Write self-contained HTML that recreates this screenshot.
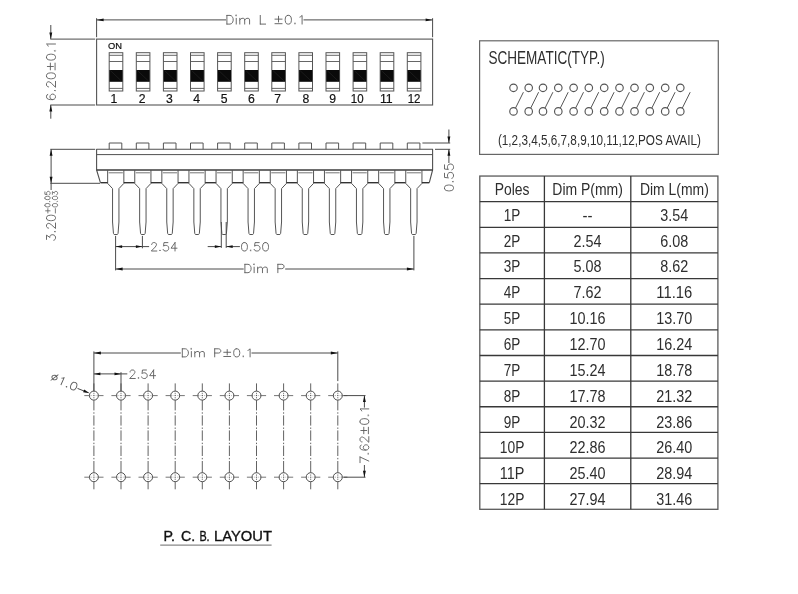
<!DOCTYPE html>
<html><head><meta charset="utf-8"><title>DIP switch drawing</title>
<style>
html,body{margin:0;padding:0;background:#fff;}
body{width:798px;height:594px;overflow:hidden;}
svg{display:block;font-family:"Liberation Sans",sans-serif;filter:grayscale(1);}
</style></head><body>
<svg width="798" height="594" viewBox="0 0 798 594">
<rect x="0" y="0" width="798" height="594" fill="#ffffff"/>
<g opacity="0.999">
<rect x="96.60" y="39.10" width="336.00" height="65.90" fill="none" stroke="#555" stroke-width="1.1"/>
<rect x="109.20" y="52.7" width="13.60" height="38.3" fill="#fff" stroke="#555" stroke-width="1"/>
<line x1="109.20" y1="55.30" x2="122.80" y2="55.30" stroke="#555" stroke-width="0.9"/>
<line x1="109.20" y1="61.50" x2="122.80" y2="61.50" stroke="#555" stroke-width="0.9"/>
<line x1="109.20" y1="88.40" x2="122.80" y2="88.40" stroke="#555" stroke-width="0.9"/>
<rect x="109.40" y="70" width="13.20" height="11.8" fill="#0a0a0a"/>
<line x1="110.40" y1="70.60" x2="121.60" y2="81.20" stroke="#2c2c2c" stroke-width="0.5"/>
<rect x="136.30" y="52.7" width="13.60" height="38.3" fill="#fff" stroke="#555" stroke-width="1"/>
<line x1="136.30" y1="55.30" x2="149.90" y2="55.30" stroke="#555" stroke-width="0.9"/>
<line x1="136.30" y1="61.50" x2="149.90" y2="61.50" stroke="#555" stroke-width="0.9"/>
<line x1="136.30" y1="88.40" x2="149.90" y2="88.40" stroke="#555" stroke-width="0.9"/>
<rect x="136.50" y="70" width="13.20" height="11.8" fill="#0a0a0a"/>
<line x1="137.50" y1="70.60" x2="148.70" y2="81.20" stroke="#2c2c2c" stroke-width="0.5"/>
<rect x="163.40" y="52.7" width="13.60" height="38.3" fill="#fff" stroke="#555" stroke-width="1"/>
<line x1="163.40" y1="55.30" x2="177.00" y2="55.30" stroke="#555" stroke-width="0.9"/>
<line x1="163.40" y1="61.50" x2="177.00" y2="61.50" stroke="#555" stroke-width="0.9"/>
<line x1="163.40" y1="88.40" x2="177.00" y2="88.40" stroke="#555" stroke-width="0.9"/>
<rect x="163.60" y="70" width="13.20" height="11.8" fill="#0a0a0a"/>
<line x1="164.60" y1="70.60" x2="175.80" y2="81.20" stroke="#2c2c2c" stroke-width="0.5"/>
<rect x="190.50" y="52.7" width="13.60" height="38.3" fill="#fff" stroke="#555" stroke-width="1"/>
<line x1="190.50" y1="55.30" x2="204.10" y2="55.30" stroke="#555" stroke-width="0.9"/>
<line x1="190.50" y1="61.50" x2="204.10" y2="61.50" stroke="#555" stroke-width="0.9"/>
<line x1="190.50" y1="88.40" x2="204.10" y2="88.40" stroke="#555" stroke-width="0.9"/>
<rect x="190.70" y="70" width="13.20" height="11.8" fill="#0a0a0a"/>
<line x1="191.70" y1="70.60" x2="202.90" y2="81.20" stroke="#2c2c2c" stroke-width="0.5"/>
<rect x="217.60" y="52.7" width="13.60" height="38.3" fill="#fff" stroke="#555" stroke-width="1"/>
<line x1="217.60" y1="55.30" x2="231.20" y2="55.30" stroke="#555" stroke-width="0.9"/>
<line x1="217.60" y1="61.50" x2="231.20" y2="61.50" stroke="#555" stroke-width="0.9"/>
<line x1="217.60" y1="88.40" x2="231.20" y2="88.40" stroke="#555" stroke-width="0.9"/>
<rect x="217.80" y="70" width="13.20" height="11.8" fill="#0a0a0a"/>
<line x1="218.80" y1="70.60" x2="230.00" y2="81.20" stroke="#2c2c2c" stroke-width="0.5"/>
<rect x="244.70" y="52.7" width="13.60" height="38.3" fill="#fff" stroke="#555" stroke-width="1"/>
<line x1="244.70" y1="55.30" x2="258.30" y2="55.30" stroke="#555" stroke-width="0.9"/>
<line x1="244.70" y1="61.50" x2="258.30" y2="61.50" stroke="#555" stroke-width="0.9"/>
<line x1="244.70" y1="88.40" x2="258.30" y2="88.40" stroke="#555" stroke-width="0.9"/>
<rect x="244.90" y="70" width="13.20" height="11.8" fill="#0a0a0a"/>
<line x1="245.90" y1="70.60" x2="257.10" y2="81.20" stroke="#2c2c2c" stroke-width="0.5"/>
<rect x="271.80" y="52.7" width="13.60" height="38.3" fill="#fff" stroke="#555" stroke-width="1"/>
<line x1="271.80" y1="55.30" x2="285.40" y2="55.30" stroke="#555" stroke-width="0.9"/>
<line x1="271.80" y1="61.50" x2="285.40" y2="61.50" stroke="#555" stroke-width="0.9"/>
<line x1="271.80" y1="88.40" x2="285.40" y2="88.40" stroke="#555" stroke-width="0.9"/>
<rect x="272.00" y="70" width="13.20" height="11.8" fill="#0a0a0a"/>
<line x1="273.00" y1="70.60" x2="284.20" y2="81.20" stroke="#2c2c2c" stroke-width="0.5"/>
<rect x="298.90" y="52.7" width="13.60" height="38.3" fill="#fff" stroke="#555" stroke-width="1"/>
<line x1="298.90" y1="55.30" x2="312.50" y2="55.30" stroke="#555" stroke-width="0.9"/>
<line x1="298.90" y1="61.50" x2="312.50" y2="61.50" stroke="#555" stroke-width="0.9"/>
<line x1="298.90" y1="88.40" x2="312.50" y2="88.40" stroke="#555" stroke-width="0.9"/>
<rect x="299.10" y="70" width="13.20" height="11.8" fill="#0a0a0a"/>
<line x1="300.10" y1="70.60" x2="311.30" y2="81.20" stroke="#2c2c2c" stroke-width="0.5"/>
<rect x="326.00" y="52.7" width="13.60" height="38.3" fill="#fff" stroke="#555" stroke-width="1"/>
<line x1="326.00" y1="55.30" x2="339.60" y2="55.30" stroke="#555" stroke-width="0.9"/>
<line x1="326.00" y1="61.50" x2="339.60" y2="61.50" stroke="#555" stroke-width="0.9"/>
<line x1="326.00" y1="88.40" x2="339.60" y2="88.40" stroke="#555" stroke-width="0.9"/>
<rect x="326.20" y="70" width="13.20" height="11.8" fill="#0a0a0a"/>
<line x1="327.20" y1="70.60" x2="338.40" y2="81.20" stroke="#2c2c2c" stroke-width="0.5"/>
<rect x="353.10" y="52.7" width="13.60" height="38.3" fill="#fff" stroke="#555" stroke-width="1"/>
<line x1="353.10" y1="55.30" x2="366.70" y2="55.30" stroke="#555" stroke-width="0.9"/>
<line x1="353.10" y1="61.50" x2="366.70" y2="61.50" stroke="#555" stroke-width="0.9"/>
<line x1="353.10" y1="88.40" x2="366.70" y2="88.40" stroke="#555" stroke-width="0.9"/>
<rect x="353.30" y="70" width="13.20" height="11.8" fill="#0a0a0a"/>
<line x1="354.30" y1="70.60" x2="365.50" y2="81.20" stroke="#2c2c2c" stroke-width="0.5"/>
<rect x="380.20" y="52.7" width="13.60" height="38.3" fill="#fff" stroke="#555" stroke-width="1"/>
<line x1="380.20" y1="55.30" x2="393.80" y2="55.30" stroke="#555" stroke-width="0.9"/>
<line x1="380.20" y1="61.50" x2="393.80" y2="61.50" stroke="#555" stroke-width="0.9"/>
<line x1="380.20" y1="88.40" x2="393.80" y2="88.40" stroke="#555" stroke-width="0.9"/>
<rect x="380.40" y="70" width="13.20" height="11.8" fill="#0a0a0a"/>
<line x1="381.40" y1="70.60" x2="392.60" y2="81.20" stroke="#2c2c2c" stroke-width="0.5"/>
<rect x="407.30" y="52.7" width="13.60" height="38.3" fill="#fff" stroke="#555" stroke-width="1"/>
<line x1="407.30" y1="55.30" x2="420.90" y2="55.30" stroke="#555" stroke-width="0.9"/>
<line x1="407.30" y1="61.50" x2="420.90" y2="61.50" stroke="#555" stroke-width="0.9"/>
<line x1="407.30" y1="88.40" x2="420.90" y2="88.40" stroke="#555" stroke-width="0.9"/>
<rect x="407.50" y="70" width="13.20" height="11.8" fill="#0a0a0a"/>
<line x1="408.50" y1="70.60" x2="419.70" y2="81.20" stroke="#2c2c2c" stroke-width="0.5"/>
<line x1="96.60" y1="18.20" x2="96.60" y2="37.20" stroke="#4a4a4a" stroke-width="1"/>
<line x1="432.60" y1="18.20" x2="432.60" y2="37.20" stroke="#4a4a4a" stroke-width="1"/>
<line x1="96.60" y1="19.90" x2="226.00" y2="19.90" stroke="#4a4a4a" stroke-width="1"/>
<line x1="303.50" y1="19.90" x2="432.60" y2="19.90" stroke="#4a4a4a" stroke-width="1"/>
<path d="M96.60 19.90 L103.60 18.45 L103.60 21.35 Z" fill="#111" stroke="none"/>
<path d="M432.60 19.90 L425.60 21.35 L425.60 18.45 Z" fill="#111" stroke="none"/>
<path d="M226.90 15.40 L226.90 24.10 M226.90 15.40 L230.01 15.40 L231.35 15.81 L232.24 16.64 L232.68 17.47 L233.13 18.71 L233.13 20.79 L232.68 22.03 L232.24 22.86 L231.35 23.69 L230.01 24.10 L226.90 24.10 M235.80 15.40 L236.24 15.81 L236.69 15.40 L236.24 14.99 L235.80 15.40 M236.24 18.30 L236.24 24.10 M239.80 18.30 L239.80 24.10 M239.80 19.96 L241.14 18.71 L242.03 18.30 L243.36 18.30 L244.25 18.71 L244.70 19.96 L244.70 24.10 M244.70 19.96 L246.03 18.71 L246.92 18.30 L248.26 18.30 L249.15 18.71 L249.59 19.96 L249.59 24.10 M260.27 15.40 L260.27 24.10 M260.27 24.10 L265.61 24.10 M278.52 16.23 L278.52 22.03 M274.96 19.13 L282.08 19.13 M274.96 23.69 L282.08 23.69 M287.86 15.40 L286.53 15.81 L285.64 17.06 L285.19 19.13 L285.19 20.37 L285.64 22.44 L286.53 23.69 L287.86 24.10 L288.75 24.10 L290.09 23.69 L290.98 22.44 L291.42 20.37 L291.42 19.13 L290.98 17.06 L290.09 15.81 L288.75 15.40 L287.86 15.40 M294.98 23.27 L294.54 23.69 L294.98 24.10 L295.43 23.69 L294.98 23.27 M299.88 17.06 L300.77 16.64 L302.10 15.40 L302.10 24.10" fill="none" stroke="#5a5a5a" stroke-width="0.9" stroke-linecap="round" stroke-linejoin="round"/>
<line x1="50.30" y1="39.10" x2="95.20" y2="39.10" stroke="#4a4a4a" stroke-width="1"/>
<line x1="50.30" y1="105.00" x2="95.20" y2="105.00" stroke="#4a4a4a" stroke-width="1"/>
<line x1="50.80" y1="25.00" x2="50.80" y2="39.10" stroke="#4a4a4a" stroke-width="1"/>
<line x1="50.80" y1="105.00" x2="50.80" y2="118.70" stroke="#4a4a4a" stroke-width="1"/>
<path d="M50.80 39.10 L49.35 32.60 L52.25 32.60 Z" fill="#111" stroke="none"/>
<path d="M50.80 105.00 L52.25 111.50 L49.35 111.50 Z" fill="#111" stroke="none"/>
<path d="M47.79 94.51 L46.93 94.93 L46.50 96.20 L46.50 97.05 L46.93 98.33 L48.21 99.18 L50.36 99.60 L52.50 99.60 L54.21 99.18 L55.07 98.33 L55.50 97.05 L55.50 96.63 L55.07 95.36 L54.21 94.51 L52.93 94.08 L52.50 94.08 L51.21 94.51 L50.36 95.36 L49.93 96.63 L49.93 97.05 L50.36 98.33 L51.21 99.18 L52.50 99.60 M54.64 90.69 L55.07 91.11 L55.50 90.69 L55.07 90.26 L54.64 90.69 M48.64 86.87 L48.21 86.87 L47.36 86.44 L46.93 86.02 L46.50 85.17 L46.50 83.47 L46.93 82.62 L47.36 82.20 L48.21 81.77 L49.07 81.77 L49.93 82.20 L51.21 83.05 L55.50 87.29 L55.50 81.35 M46.50 76.26 L46.93 77.53 L48.21 78.38 L50.36 78.80 L51.64 78.80 L53.79 78.38 L55.07 77.53 L55.50 76.26 L55.50 75.41 L55.07 74.13 L53.79 73.29 L51.64 72.86 L50.36 72.86 L48.21 73.29 L46.93 74.13 L46.50 75.41 L46.50 76.26 M47.36 66.49 L53.36 66.49 M50.36 69.89 L50.36 63.10 M55.07 69.89 L55.07 63.10 M46.50 57.58 L46.93 58.85 L48.21 59.70 L50.36 60.13 L51.64 60.13 L53.79 59.70 L55.07 58.85 L55.50 57.58 L55.50 56.73 L55.07 55.46 L53.79 54.61 L51.64 54.19 L50.36 54.19 L48.21 54.61 L46.93 55.46 L46.50 56.73 L46.50 57.58 M54.64 50.79 L55.07 51.22 L55.50 50.79 L55.07 50.37 L54.64 50.79 M48.21 46.12 L47.79 45.27 L46.50 44.00 L55.50 44.00" fill="none" stroke="#5a5a5a" stroke-width="0.9" stroke-linecap="round" stroke-linejoin="round"/>
<path d="M100.40 182.70 L96.60 170.00 L96.60 149.30 L432.60 149.30 L432.60 170.00 L429.30 182.70" fill="none" stroke="#505050" stroke-width="1.1" stroke-linejoin="round"/>
<line x1="96.60" y1="154.60" x2="432.60" y2="154.60" stroke="#505050" stroke-width="1"/>
<line x1="96.60" y1="170.00" x2="432.60" y2="170.00" stroke="#3c3c3c" stroke-width="1.3"/>
<path d="M109.20 149.30 L109.20 143.00 L121.80 143.00 L121.80 149.30" fill="none" stroke="#555" stroke-width="1" stroke-linejoin="round"/>
<path d="M107.65 170.00 L107.65 183.40 L112.55 188.60 L112.55 222.00 L113.45 233.40 L114.15 234.50 L117.35 234.50 L118.05 233.40 L118.95 222.00 L118.95 188.60 L123.85 183.40 L123.85 170.00" fill="none" stroke="#555" stroke-width="1" stroke-linejoin="round"/>
<line x1="108.65" y1="172.80" x2="122.85" y2="172.80" stroke="#777" stroke-width="1"/>
<line x1="123.85" y1="182.70" x2="134.75" y2="182.70" stroke="#333" stroke-width="1.4"/>
<path d="M136.30 149.30 L136.30 143.00 L148.90 143.00 L148.90 149.30" fill="none" stroke="#555" stroke-width="1" stroke-linejoin="round"/>
<path d="M134.75 170.00 L134.75 183.40 L139.65 188.60 L139.65 222.00 L140.55 233.40 L141.25 234.50 L144.45 234.50 L145.15 233.40 L146.05 222.00 L146.05 188.60 L150.95 183.40 L150.95 170.00" fill="none" stroke="#555" stroke-width="1" stroke-linejoin="round"/>
<line x1="135.75" y1="172.80" x2="149.95" y2="172.80" stroke="#777" stroke-width="1"/>
<line x1="150.95" y1="182.70" x2="161.85" y2="182.70" stroke="#333" stroke-width="1.4"/>
<path d="M163.40 149.30 L163.40 143.00 L176.00 143.00 L176.00 149.30" fill="none" stroke="#555" stroke-width="1" stroke-linejoin="round"/>
<path d="M161.85 170.00 L161.85 183.40 L166.75 188.60 L166.75 222.00 L167.65 233.40 L168.35 234.50 L171.55 234.50 L172.25 233.40 L173.15 222.00 L173.15 188.60 L178.05 183.40 L178.05 170.00" fill="none" stroke="#555" stroke-width="1" stroke-linejoin="round"/>
<line x1="162.85" y1="172.80" x2="177.05" y2="172.80" stroke="#777" stroke-width="1"/>
<line x1="178.05" y1="182.70" x2="188.95" y2="182.70" stroke="#333" stroke-width="1.4"/>
<path d="M190.50 149.30 L190.50 143.00 L203.10 143.00 L203.10 149.30" fill="none" stroke="#555" stroke-width="1" stroke-linejoin="round"/>
<path d="M188.95 170.00 L188.95 183.40 L193.85 188.60 L193.85 222.00 L194.75 233.40 L195.45 234.50 L198.65 234.50 L199.35 233.40 L200.25 222.00 L200.25 188.60 L205.15 183.40 L205.15 170.00" fill="none" stroke="#555" stroke-width="1" stroke-linejoin="round"/>
<line x1="189.95" y1="172.80" x2="204.15" y2="172.80" stroke="#777" stroke-width="1"/>
<line x1="205.15" y1="182.70" x2="216.05" y2="182.70" stroke="#333" stroke-width="1.4"/>
<path d="M217.60 149.30 L217.60 143.00 L230.20 143.00 L230.20 149.30" fill="none" stroke="#555" stroke-width="1" stroke-linejoin="round"/>
<path d="M216.05 170.00 L216.05 183.40 L220.95 188.60 L220.95 222.00 L221.85 233.40 L222.55 234.50 L225.75 234.50 L226.45 233.40 L227.35 222.00 L227.35 188.60 L232.25 183.40 L232.25 170.00" fill="none" stroke="#555" stroke-width="1" stroke-linejoin="round"/>
<line x1="217.05" y1="172.80" x2="231.25" y2="172.80" stroke="#777" stroke-width="1"/>
<line x1="232.25" y1="182.70" x2="243.15" y2="182.70" stroke="#333" stroke-width="1.4"/>
<path d="M244.70 149.30 L244.70 143.00 L257.30 143.00 L257.30 149.30" fill="none" stroke="#555" stroke-width="1" stroke-linejoin="round"/>
<path d="M243.15 170.00 L243.15 183.40 L248.05 188.60 L248.05 222.00 L248.95 233.40 L249.65 234.50 L252.85 234.50 L253.55 233.40 L254.45 222.00 L254.45 188.60 L259.35 183.40 L259.35 170.00" fill="none" stroke="#555" stroke-width="1" stroke-linejoin="round"/>
<line x1="244.15" y1="172.80" x2="258.35" y2="172.80" stroke="#777" stroke-width="1"/>
<line x1="259.35" y1="182.70" x2="270.25" y2="182.70" stroke="#333" stroke-width="1.4"/>
<path d="M271.80 149.30 L271.80 143.00 L284.40 143.00 L284.40 149.30" fill="none" stroke="#555" stroke-width="1" stroke-linejoin="round"/>
<path d="M270.25 170.00 L270.25 183.40 L275.15 188.60 L275.15 222.00 L276.05 233.40 L276.75 234.50 L279.95 234.50 L280.65 233.40 L281.55 222.00 L281.55 188.60 L286.45 183.40 L286.45 170.00" fill="none" stroke="#555" stroke-width="1" stroke-linejoin="round"/>
<line x1="271.25" y1="172.80" x2="285.45" y2="172.80" stroke="#777" stroke-width="1"/>
<line x1="286.45" y1="182.70" x2="297.35" y2="182.70" stroke="#333" stroke-width="1.4"/>
<path d="M298.90 149.30 L298.90 143.00 L311.50 143.00 L311.50 149.30" fill="none" stroke="#555" stroke-width="1" stroke-linejoin="round"/>
<path d="M297.35 170.00 L297.35 183.40 L302.25 188.60 L302.25 222.00 L303.15 233.40 L303.85 234.50 L307.05 234.50 L307.75 233.40 L308.65 222.00 L308.65 188.60 L313.55 183.40 L313.55 170.00" fill="none" stroke="#555" stroke-width="1" stroke-linejoin="round"/>
<line x1="298.35" y1="172.80" x2="312.55" y2="172.80" stroke="#777" stroke-width="1"/>
<line x1="313.55" y1="182.70" x2="324.45" y2="182.70" stroke="#333" stroke-width="1.4"/>
<path d="M326.00 149.30 L326.00 143.00 L338.60 143.00 L338.60 149.30" fill="none" stroke="#555" stroke-width="1" stroke-linejoin="round"/>
<path d="M324.45 170.00 L324.45 183.40 L329.35 188.60 L329.35 222.00 L330.25 233.40 L330.95 234.50 L334.15 234.50 L334.85 233.40 L335.75 222.00 L335.75 188.60 L340.65 183.40 L340.65 170.00" fill="none" stroke="#555" stroke-width="1" stroke-linejoin="round"/>
<line x1="325.45" y1="172.80" x2="339.65" y2="172.80" stroke="#777" stroke-width="1"/>
<line x1="340.65" y1="182.70" x2="351.55" y2="182.70" stroke="#333" stroke-width="1.4"/>
<path d="M353.10 149.30 L353.10 143.00 L365.70 143.00 L365.70 149.30" fill="none" stroke="#555" stroke-width="1" stroke-linejoin="round"/>
<path d="M351.55 170.00 L351.55 183.40 L356.45 188.60 L356.45 222.00 L357.35 233.40 L358.05 234.50 L361.25 234.50 L361.95 233.40 L362.85 222.00 L362.85 188.60 L367.75 183.40 L367.75 170.00" fill="none" stroke="#555" stroke-width="1" stroke-linejoin="round"/>
<line x1="352.55" y1="172.80" x2="366.75" y2="172.80" stroke="#777" stroke-width="1"/>
<line x1="367.75" y1="182.70" x2="378.65" y2="182.70" stroke="#333" stroke-width="1.4"/>
<path d="M380.20 149.30 L380.20 143.00 L392.80 143.00 L392.80 149.30" fill="none" stroke="#555" stroke-width="1" stroke-linejoin="round"/>
<path d="M378.65 170.00 L378.65 183.40 L383.55 188.60 L383.55 222.00 L384.45 233.40 L385.15 234.50 L388.35 234.50 L389.05 233.40 L389.95 222.00 L389.95 188.60 L394.85 183.40 L394.85 170.00" fill="none" stroke="#555" stroke-width="1" stroke-linejoin="round"/>
<line x1="379.65" y1="172.80" x2="393.85" y2="172.80" stroke="#777" stroke-width="1"/>
<line x1="394.85" y1="182.70" x2="405.75" y2="182.70" stroke="#333" stroke-width="1.4"/>
<path d="M407.30 149.30 L407.30 143.00 L419.90 143.00 L419.90 149.30" fill="none" stroke="#555" stroke-width="1" stroke-linejoin="round"/>
<path d="M405.75 170.00 L405.75 183.40 L410.65 188.60 L410.65 222.00 L411.55 233.40 L412.25 234.50 L415.45 234.50 L416.15 233.40 L417.05 222.00 L417.05 188.60 L421.95 183.40 L421.95 170.00" fill="none" stroke="#555" stroke-width="1" stroke-linejoin="round"/>
<line x1="406.75" y1="172.80" x2="420.95" y2="172.80" stroke="#777" stroke-width="1"/>
<line x1="100.40" y1="182.70" x2="107.65" y2="182.70" stroke="#333" stroke-width="1.4"/>
<line x1="421.95" y1="182.70" x2="429.30" y2="182.70" stroke="#333" stroke-width="1.4"/>
<line x1="50.30" y1="149.30" x2="95.20" y2="149.30" stroke="#4a4a4a" stroke-width="1"/>
<line x1="50.30" y1="183.30" x2="100.00" y2="183.30" stroke="#4a4a4a" stroke-width="1"/>
<line x1="51.10" y1="149.30" x2="51.10" y2="190.00" stroke="#4a4a4a" stroke-width="1"/>
<path d="M51.10 149.30 L52.55 155.80 L49.65 155.80 Z" fill="#111" stroke="none"/>
<path d="M51.10 183.30 L49.65 176.80 L52.55 176.80 Z" fill="#111" stroke="none"/>
<path d="M46.50 239.42 L46.50 235.12 L49.93 237.47 L49.93 236.29 L50.36 235.51 L50.79 235.12 L52.07 234.73 L52.93 234.73 L54.21 235.12 L55.07 235.90 L55.50 237.07 L55.50 238.25 L55.07 239.42 L54.64 239.81 L53.79 240.20 M54.64 231.61 L55.07 232.00 L55.50 231.61 L55.07 231.22 L54.64 231.61 M48.64 228.09 L48.21 228.09 L47.36 227.70 L46.93 227.31 L46.50 226.53 L46.50 224.97 L46.93 224.18 L47.36 223.79 L48.21 223.40 L49.07 223.40 L49.93 223.79 L51.21 224.58 L55.50 228.48 L55.50 223.01 M46.50 218.33 L46.93 219.50 L48.21 220.28 L50.36 220.67 L51.64 220.67 L53.79 220.28 L55.07 219.50 L55.50 218.33 L55.50 217.54 L55.07 216.37 L53.79 215.59 L51.64 215.20 L50.36 215.20 L48.21 215.59 L46.93 216.37 L46.50 217.54 L46.50 218.33" fill="none" stroke="#5a5a5a" stroke-width="0.9" stroke-linecap="round" stroke-linejoin="round"/>
<path d="M45.64 210.82 L50.10 210.82 M47.87 213.00 L47.87 208.63 M44.90 205.48 L45.15 206.20 L45.89 206.69 L47.13 206.93 L47.87 206.93 L49.11 206.69 L49.85 206.20 L50.10 205.48 L50.10 204.99 L49.85 204.26 L49.11 203.78 L47.87 203.53 L47.13 203.53 L45.89 203.78 L45.15 204.26 L44.90 204.99 L44.90 205.48 M49.60 201.59 L49.85 201.84 L50.10 201.59 L49.85 201.35 L49.60 201.59 M44.90 198.20 L45.15 198.92 L45.89 199.41 L47.13 199.65 L47.87 199.65 L49.11 199.41 L49.85 198.92 L50.10 198.20 L50.10 197.71 L49.85 196.98 L49.11 196.50 L47.87 196.25 L47.13 196.25 L45.89 196.50 L45.15 196.98 L44.90 197.71 L44.90 198.20 M44.90 191.89 L44.90 194.31 L47.13 194.56 L46.88 194.31 L46.63 193.58 L46.63 192.86 L46.88 192.13 L47.38 191.64 L48.12 191.40 L48.61 191.40 L49.36 191.64 L49.85 192.13 L50.10 192.86 L50.10 193.58 L49.85 194.31 L49.60 194.56 L49.11 194.80" fill="none" stroke="#5a5a5a" stroke-width="0.8" stroke-linecap="round" stroke-linejoin="round"/>
<path d="M55.37 213.00 L55.37 208.63 M52.40 205.48 L52.65 206.20 L53.39 206.69 L54.63 206.93 L55.37 206.93 L56.61 206.69 L57.35 206.20 L57.60 205.48 L57.60 204.99 L57.35 204.26 L56.61 203.78 L55.37 203.53 L54.63 203.53 L53.39 203.78 L52.65 204.26 L52.40 204.99 L52.40 205.48 M57.10 201.59 L57.35 201.84 L57.60 201.59 L57.35 201.35 L57.10 201.59 M52.40 198.20 L52.65 198.92 L53.39 199.41 L54.63 199.65 L55.37 199.65 L56.61 199.41 L57.35 198.92 L57.60 198.20 L57.60 197.71 L57.35 196.98 L56.61 196.50 L55.37 196.25 L54.63 196.25 L53.39 196.50 L52.65 196.98 L52.40 197.71 L52.40 198.20 M52.40 194.31 L52.40 191.64 L54.38 193.10 L54.38 192.37 L54.63 191.89 L54.88 191.64 L55.62 191.40 L56.11 191.40 L56.86 191.64 L57.35 192.13 L57.60 192.86 L57.60 193.58 L57.35 194.31 L57.10 194.56 L56.61 194.80" fill="none" stroke="#5a5a5a" stroke-width="0.8" stroke-linecap="round" stroke-linejoin="round"/>
<line x1="422.40" y1="143.00" x2="450.20" y2="143.00" stroke="#4a4a4a" stroke-width="1"/>
<line x1="435.00" y1="149.30" x2="450.20" y2="149.30" stroke="#4a4a4a" stroke-width="1"/>
<line x1="448.90" y1="129.50" x2="448.90" y2="143.00" stroke="#4a4a4a" stroke-width="1"/>
<line x1="448.90" y1="149.30" x2="448.90" y2="163.00" stroke="#4a4a4a" stroke-width="1"/>
<path d="M448.90 143.00 L447.45 136.50 L450.35 136.50 Z" fill="#111" stroke="none"/>
<path d="M448.90 149.30 L450.35 155.80 L447.45 155.80 Z" fill="#111" stroke="none"/>
<path d="M444.50 188.38 L444.93 189.64 L446.21 190.48 L448.36 190.90 L449.64 190.90 L451.79 190.48 L453.07 189.64 L453.50 188.38 L453.50 187.54 L453.07 186.28 L451.79 185.44 L449.64 185.02 L448.36 185.02 L446.21 185.44 L444.93 186.28 L444.50 187.54 L444.50 188.38 M452.64 181.65 L453.07 182.07 L453.50 181.65 L453.07 181.23 L452.64 181.65 M444.50 173.25 L444.50 177.45 L448.36 177.87 L447.93 177.45 L447.50 176.19 L447.50 174.93 L447.93 173.67 L448.79 172.83 L450.07 172.41 L450.93 172.41 L452.21 172.83 L453.07 173.67 L453.50 174.93 L453.50 176.19 L453.07 177.45 L452.64 177.87 L451.79 178.29 M444.50 164.84 L444.50 169.04 L448.36 169.46 L447.93 169.04 L447.50 167.78 L447.50 166.52 L447.93 165.26 L448.79 164.42 L450.07 164.00 L450.93 164.00 L452.21 164.42 L453.07 165.26 L453.50 166.52 L453.50 167.78 L453.07 169.04 L452.64 169.46 L451.79 169.88" fill="none" stroke="#5a5a5a" stroke-width="0.9" stroke-linecap="round" stroke-linejoin="round"/>
<line x1="115.60" y1="235.90" x2="115.60" y2="270.40" stroke="#4a4a4a" stroke-width="1"/>
<line x1="142.40" y1="235.90" x2="142.40" y2="248.30" stroke="#4a4a4a" stroke-width="1"/>
<line x1="115.60" y1="246.60" x2="149.10" y2="246.60" stroke="#4a4a4a" stroke-width="1"/>
<path d="M115.60 246.60 L122.10 245.15 L122.10 248.05 Z" fill="#111" stroke="none"/>
<path d="M142.40 246.60 L135.90 248.05 L135.90 245.15 Z" fill="#111" stroke="none"/>
<path d="M151.70 244.60 L151.70 244.20 L152.09 243.40 L152.49 243.00 L153.28 242.60 L154.86 242.60 L155.65 243.00 L156.04 243.40 L156.44 244.20 L156.44 245.00 L156.04 245.80 L155.25 247.00 L151.30 251.00 L156.84 251.00 M160.00 250.20 L159.60 250.60 L160.00 251.00 L160.39 250.60 L160.00 250.20 M167.91 242.60 L163.95 242.60 L163.56 246.20 L163.95 245.80 L165.14 245.40 L166.32 245.40 L167.51 245.80 L168.30 246.60 L168.70 247.80 L168.70 248.60 L168.30 249.80 L167.51 250.60 L166.32 251.00 L165.14 251.00 L163.95 250.60 L163.56 250.20 L163.16 249.40 M175.02 242.60 L171.07 248.20 L177.00 248.20 M175.02 242.60 L175.02 251.00" fill="none" stroke="#5a5a5a" stroke-width="0.9" stroke-linecap="round" stroke-linejoin="round"/>
<line x1="221.30" y1="222.00" x2="221.30" y2="247.90" stroke="#4a4a4a" stroke-width="1"/>
<line x1="226.20" y1="222.00" x2="226.20" y2="247.90" stroke="#4a4a4a" stroke-width="1"/>
<line x1="207.70" y1="246.60" x2="221.30" y2="246.60" stroke="#4a4a4a" stroke-width="1"/>
<line x1="226.20" y1="246.60" x2="239.90" y2="246.60" stroke="#4a4a4a" stroke-width="1"/>
<path d="M221.30 246.60 L214.80 248.05 L214.80 245.15 Z" fill="#111" stroke="none"/>
<path d="M226.20 246.60 L232.70 245.15 L232.70 248.05 Z" fill="#111" stroke="none"/>
<path d="M244.03 242.60 L242.77 243.00 L241.92 244.20 L241.50 246.20 L241.50 247.40 L241.92 249.40 L242.77 250.60 L244.03 251.00 L244.88 251.00 L246.14 250.60 L246.98 249.40 L247.41 247.40 L247.41 246.20 L246.98 244.20 L246.14 243.00 L244.88 242.60 L244.03 242.60 M250.78 250.20 L250.36 250.60 L250.78 251.00 L251.20 250.60 L250.78 250.20 M259.22 242.60 L255.00 242.60 L254.58 246.20 L255.00 245.80 L256.27 245.40 L257.53 245.40 L258.80 245.80 L259.64 246.60 L260.06 247.80 L260.06 248.60 L259.64 249.80 L258.80 250.60 L257.53 251.00 L256.27 251.00 L255.00 250.60 L254.58 250.20 L254.16 249.40 M265.12 242.60 L263.86 243.00 L263.02 244.20 L262.59 246.20 L262.59 247.40 L263.02 249.40 L263.86 250.60 L265.12 251.00 L265.97 251.00 L267.23 250.60 L268.08 249.40 L268.50 247.40 L268.50 246.20 L268.08 244.20 L267.23 243.00 L265.97 242.60 L265.12 242.60" fill="none" stroke="#5a5a5a" stroke-width="0.9" stroke-linecap="round" stroke-linejoin="round"/>
<line x1="413.90" y1="235.90" x2="413.90" y2="270.40" stroke="#4a4a4a" stroke-width="1"/>
<line x1="115.60" y1="269.00" x2="243.70" y2="269.00" stroke="#4a4a4a" stroke-width="1"/>
<line x1="285.20" y1="269.00" x2="413.90" y2="269.00" stroke="#4a4a4a" stroke-width="1"/>
<path d="M115.60 269.00 L122.60 267.55 L122.60 270.45 Z" fill="#111" stroke="none"/>
<path d="M413.90 269.00 L406.90 270.45 L406.90 267.55 Z" fill="#111" stroke="none"/>
<path d="M244.90 264.30 L244.90 272.70 M244.90 264.30 L247.98 264.30 L249.29 264.70 L250.17 265.50 L250.61 266.30 L251.05 267.50 L251.05 269.50 L250.61 270.70 L250.17 271.50 L249.29 272.30 L247.98 272.70 L244.90 272.70 M253.69 264.30 L254.13 264.70 L254.57 264.30 L254.13 263.90 L253.69 264.30 M254.13 267.10 L254.13 272.70 M257.64 267.10 L257.64 272.70 M257.64 268.70 L258.96 267.50 L259.84 267.10 L261.16 267.10 L262.03 267.50 L262.47 268.70 L262.47 272.70 M262.47 268.70 L263.79 267.50 L264.67 267.10 L265.99 267.10 L266.87 267.50 L267.31 268.70 L267.31 272.70 M277.85 264.30 L277.85 272.70 M277.85 264.30 L281.80 264.30 L283.12 264.70 L283.56 265.10 L284.00 265.90 L284.00 267.10 L283.56 267.90 L283.12 268.30 L281.80 268.70 L277.85 268.70" fill="none" stroke="#5a5a5a" stroke-width="0.9" stroke-linecap="round" stroke-linejoin="round"/>
<circle cx="93.90" cy="395.60" r="4.5" fill="none" stroke="#484848" stroke-width="0.95"/>
<line x1="84.30" y1="395.60" x2="90.30" y2="395.60" stroke="#666" stroke-width="0.9"/>
<line x1="97.50" y1="395.60" x2="103.50" y2="395.60" stroke="#666" stroke-width="0.9"/>
<line x1="93.30" y1="395.60" x2="94.50" y2="395.60" stroke="#444" stroke-width="1"/>
<line x1="91.30" y1="395.60" x2="92.10" y2="395.60" stroke="#999" stroke-width="0.8"/>
<line x1="95.70" y1="395.60" x2="96.50" y2="395.60" stroke="#999" stroke-width="0.8"/>
<line x1="93.90" y1="392.80" x2="93.90" y2="394.20" stroke="#777" stroke-width="0.9"/>
<line x1="93.90" y1="397.00" x2="93.90" y2="398.40" stroke="#777" stroke-width="0.9"/>
<circle cx="93.90" cy="477.20" r="4.5" fill="none" stroke="#484848" stroke-width="0.95"/>
<line x1="84.30" y1="477.20" x2="90.30" y2="477.20" stroke="#666" stroke-width="0.9"/>
<line x1="97.50" y1="477.20" x2="103.50" y2="477.20" stroke="#666" stroke-width="0.9"/>
<line x1="93.30" y1="477.20" x2="94.50" y2="477.20" stroke="#444" stroke-width="1"/>
<line x1="91.30" y1="477.20" x2="92.10" y2="477.20" stroke="#999" stroke-width="0.8"/>
<line x1="95.70" y1="477.20" x2="96.50" y2="477.20" stroke="#999" stroke-width="0.8"/>
<line x1="93.90" y1="474.40" x2="93.90" y2="475.80" stroke="#777" stroke-width="0.9"/>
<line x1="93.90" y1="478.60" x2="93.90" y2="480.00" stroke="#777" stroke-width="0.9"/>
<line x1="93.90" y1="383.40" x2="93.90" y2="391.20" stroke="#5a5a5a" stroke-width="0.95"/>
<line x1="93.90" y1="400.00" x2="93.90" y2="410.40" stroke="#5a5a5a" stroke-width="0.95"/>
<line x1="93.90" y1="412.30" x2="93.90" y2="413.70" stroke="#5a5a5a" stroke-width="0.95"/>
<line x1="93.90" y1="415.40" x2="93.90" y2="425.60" stroke="#5a5a5a" stroke-width="0.95"/>
<line x1="93.90" y1="427.50" x2="93.90" y2="428.90" stroke="#5a5a5a" stroke-width="0.95"/>
<line x1="93.90" y1="430.40" x2="93.90" y2="440.80" stroke="#5a5a5a" stroke-width="0.95"/>
<line x1="93.90" y1="442.70" x2="93.90" y2="444.10" stroke="#5a5a5a" stroke-width="0.95"/>
<line x1="93.90" y1="445.60" x2="93.90" y2="456.00" stroke="#5a5a5a" stroke-width="0.95"/>
<line x1="93.90" y1="457.90" x2="93.90" y2="459.30" stroke="#5a5a5a" stroke-width="0.95"/>
<line x1="93.90" y1="461.00" x2="93.90" y2="472.80" stroke="#5a5a5a" stroke-width="0.95"/>
<line x1="93.90" y1="481.60" x2="93.90" y2="489.30" stroke="#5a5a5a" stroke-width="0.95"/>
<circle cx="121.00" cy="395.60" r="4.5" fill="none" stroke="#484848" stroke-width="0.95"/>
<line x1="111.40" y1="395.60" x2="117.40" y2="395.60" stroke="#666" stroke-width="0.9"/>
<line x1="124.60" y1="395.60" x2="130.60" y2="395.60" stroke="#666" stroke-width="0.9"/>
<line x1="120.40" y1="395.60" x2="121.60" y2="395.60" stroke="#444" stroke-width="1"/>
<line x1="118.40" y1="395.60" x2="119.20" y2="395.60" stroke="#999" stroke-width="0.8"/>
<line x1="122.80" y1="395.60" x2="123.60" y2="395.60" stroke="#999" stroke-width="0.8"/>
<line x1="121.00" y1="392.80" x2="121.00" y2="394.20" stroke="#777" stroke-width="0.9"/>
<line x1="121.00" y1="397.00" x2="121.00" y2="398.40" stroke="#777" stroke-width="0.9"/>
<circle cx="121.00" cy="477.20" r="4.5" fill="none" stroke="#484848" stroke-width="0.95"/>
<line x1="111.40" y1="477.20" x2="117.40" y2="477.20" stroke="#666" stroke-width="0.9"/>
<line x1="124.60" y1="477.20" x2="130.60" y2="477.20" stroke="#666" stroke-width="0.9"/>
<line x1="120.40" y1="477.20" x2="121.60" y2="477.20" stroke="#444" stroke-width="1"/>
<line x1="118.40" y1="477.20" x2="119.20" y2="477.20" stroke="#999" stroke-width="0.8"/>
<line x1="122.80" y1="477.20" x2="123.60" y2="477.20" stroke="#999" stroke-width="0.8"/>
<line x1="121.00" y1="474.40" x2="121.00" y2="475.80" stroke="#777" stroke-width="0.9"/>
<line x1="121.00" y1="478.60" x2="121.00" y2="480.00" stroke="#777" stroke-width="0.9"/>
<line x1="121.00" y1="383.40" x2="121.00" y2="391.20" stroke="#5a5a5a" stroke-width="0.95"/>
<line x1="121.00" y1="400.00" x2="121.00" y2="410.40" stroke="#5a5a5a" stroke-width="0.95"/>
<line x1="121.00" y1="412.30" x2="121.00" y2="413.70" stroke="#5a5a5a" stroke-width="0.95"/>
<line x1="121.00" y1="415.40" x2="121.00" y2="425.60" stroke="#5a5a5a" stroke-width="0.95"/>
<line x1="121.00" y1="427.50" x2="121.00" y2="428.90" stroke="#5a5a5a" stroke-width="0.95"/>
<line x1="121.00" y1="430.40" x2="121.00" y2="440.80" stroke="#5a5a5a" stroke-width="0.95"/>
<line x1="121.00" y1="442.70" x2="121.00" y2="444.10" stroke="#5a5a5a" stroke-width="0.95"/>
<line x1="121.00" y1="445.60" x2="121.00" y2="456.00" stroke="#5a5a5a" stroke-width="0.95"/>
<line x1="121.00" y1="457.90" x2="121.00" y2="459.30" stroke="#5a5a5a" stroke-width="0.95"/>
<line x1="121.00" y1="461.00" x2="121.00" y2="472.80" stroke="#5a5a5a" stroke-width="0.95"/>
<line x1="121.00" y1="481.60" x2="121.00" y2="489.30" stroke="#5a5a5a" stroke-width="0.95"/>
<circle cx="148.10" cy="395.60" r="4.5" fill="none" stroke="#484848" stroke-width="0.95"/>
<line x1="138.50" y1="395.60" x2="144.50" y2="395.60" stroke="#666" stroke-width="0.9"/>
<line x1="151.70" y1="395.60" x2="157.70" y2="395.60" stroke="#666" stroke-width="0.9"/>
<line x1="147.50" y1="395.60" x2="148.70" y2="395.60" stroke="#444" stroke-width="1"/>
<line x1="145.50" y1="395.60" x2="146.30" y2="395.60" stroke="#999" stroke-width="0.8"/>
<line x1="149.90" y1="395.60" x2="150.70" y2="395.60" stroke="#999" stroke-width="0.8"/>
<line x1="148.10" y1="392.80" x2="148.10" y2="394.20" stroke="#777" stroke-width="0.9"/>
<line x1="148.10" y1="397.00" x2="148.10" y2="398.40" stroke="#777" stroke-width="0.9"/>
<circle cx="148.10" cy="477.20" r="4.5" fill="none" stroke="#484848" stroke-width="0.95"/>
<line x1="138.50" y1="477.20" x2="144.50" y2="477.20" stroke="#666" stroke-width="0.9"/>
<line x1="151.70" y1="477.20" x2="157.70" y2="477.20" stroke="#666" stroke-width="0.9"/>
<line x1="147.50" y1="477.20" x2="148.70" y2="477.20" stroke="#444" stroke-width="1"/>
<line x1="145.50" y1="477.20" x2="146.30" y2="477.20" stroke="#999" stroke-width="0.8"/>
<line x1="149.90" y1="477.20" x2="150.70" y2="477.20" stroke="#999" stroke-width="0.8"/>
<line x1="148.10" y1="474.40" x2="148.10" y2="475.80" stroke="#777" stroke-width="0.9"/>
<line x1="148.10" y1="478.60" x2="148.10" y2="480.00" stroke="#777" stroke-width="0.9"/>
<line x1="148.10" y1="383.40" x2="148.10" y2="391.20" stroke="#5a5a5a" stroke-width="0.95"/>
<line x1="148.10" y1="400.00" x2="148.10" y2="410.40" stroke="#5a5a5a" stroke-width="0.95"/>
<line x1="148.10" y1="412.30" x2="148.10" y2="413.70" stroke="#5a5a5a" stroke-width="0.95"/>
<line x1="148.10" y1="415.40" x2="148.10" y2="425.60" stroke="#5a5a5a" stroke-width="0.95"/>
<line x1="148.10" y1="427.50" x2="148.10" y2="428.90" stroke="#5a5a5a" stroke-width="0.95"/>
<line x1="148.10" y1="430.40" x2="148.10" y2="440.80" stroke="#5a5a5a" stroke-width="0.95"/>
<line x1="148.10" y1="442.70" x2="148.10" y2="444.10" stroke="#5a5a5a" stroke-width="0.95"/>
<line x1="148.10" y1="445.60" x2="148.10" y2="456.00" stroke="#5a5a5a" stroke-width="0.95"/>
<line x1="148.10" y1="457.90" x2="148.10" y2="459.30" stroke="#5a5a5a" stroke-width="0.95"/>
<line x1="148.10" y1="461.00" x2="148.10" y2="472.80" stroke="#5a5a5a" stroke-width="0.95"/>
<line x1="148.10" y1="481.60" x2="148.10" y2="489.30" stroke="#5a5a5a" stroke-width="0.95"/>
<circle cx="175.20" cy="395.60" r="4.5" fill="none" stroke="#484848" stroke-width="0.95"/>
<line x1="165.60" y1="395.60" x2="171.60" y2="395.60" stroke="#666" stroke-width="0.9"/>
<line x1="178.80" y1="395.60" x2="184.80" y2="395.60" stroke="#666" stroke-width="0.9"/>
<line x1="174.60" y1="395.60" x2="175.80" y2="395.60" stroke="#444" stroke-width="1"/>
<line x1="172.60" y1="395.60" x2="173.40" y2="395.60" stroke="#999" stroke-width="0.8"/>
<line x1="177.00" y1="395.60" x2="177.80" y2="395.60" stroke="#999" stroke-width="0.8"/>
<line x1="175.20" y1="392.80" x2="175.20" y2="394.20" stroke="#777" stroke-width="0.9"/>
<line x1="175.20" y1="397.00" x2="175.20" y2="398.40" stroke="#777" stroke-width="0.9"/>
<circle cx="175.20" cy="477.20" r="4.5" fill="none" stroke="#484848" stroke-width="0.95"/>
<line x1="165.60" y1="477.20" x2="171.60" y2="477.20" stroke="#666" stroke-width="0.9"/>
<line x1="178.80" y1="477.20" x2="184.80" y2="477.20" stroke="#666" stroke-width="0.9"/>
<line x1="174.60" y1="477.20" x2="175.80" y2="477.20" stroke="#444" stroke-width="1"/>
<line x1="172.60" y1="477.20" x2="173.40" y2="477.20" stroke="#999" stroke-width="0.8"/>
<line x1="177.00" y1="477.20" x2="177.80" y2="477.20" stroke="#999" stroke-width="0.8"/>
<line x1="175.20" y1="474.40" x2="175.20" y2="475.80" stroke="#777" stroke-width="0.9"/>
<line x1="175.20" y1="478.60" x2="175.20" y2="480.00" stroke="#777" stroke-width="0.9"/>
<line x1="175.20" y1="383.40" x2="175.20" y2="391.20" stroke="#5a5a5a" stroke-width="0.95"/>
<line x1="175.20" y1="400.00" x2="175.20" y2="410.40" stroke="#5a5a5a" stroke-width="0.95"/>
<line x1="175.20" y1="412.30" x2="175.20" y2="413.70" stroke="#5a5a5a" stroke-width="0.95"/>
<line x1="175.20" y1="415.40" x2="175.20" y2="425.60" stroke="#5a5a5a" stroke-width="0.95"/>
<line x1="175.20" y1="427.50" x2="175.20" y2="428.90" stroke="#5a5a5a" stroke-width="0.95"/>
<line x1="175.20" y1="430.40" x2="175.20" y2="440.80" stroke="#5a5a5a" stroke-width="0.95"/>
<line x1="175.20" y1="442.70" x2="175.20" y2="444.10" stroke="#5a5a5a" stroke-width="0.95"/>
<line x1="175.20" y1="445.60" x2="175.20" y2="456.00" stroke="#5a5a5a" stroke-width="0.95"/>
<line x1="175.20" y1="457.90" x2="175.20" y2="459.30" stroke="#5a5a5a" stroke-width="0.95"/>
<line x1="175.20" y1="461.00" x2="175.20" y2="472.80" stroke="#5a5a5a" stroke-width="0.95"/>
<line x1="175.20" y1="481.60" x2="175.20" y2="489.30" stroke="#5a5a5a" stroke-width="0.95"/>
<circle cx="202.30" cy="395.60" r="4.5" fill="none" stroke="#484848" stroke-width="0.95"/>
<line x1="192.70" y1="395.60" x2="198.70" y2="395.60" stroke="#666" stroke-width="0.9"/>
<line x1="205.90" y1="395.60" x2="211.90" y2="395.60" stroke="#666" stroke-width="0.9"/>
<line x1="201.70" y1="395.60" x2="202.90" y2="395.60" stroke="#444" stroke-width="1"/>
<line x1="199.70" y1="395.60" x2="200.50" y2="395.60" stroke="#999" stroke-width="0.8"/>
<line x1="204.10" y1="395.60" x2="204.90" y2="395.60" stroke="#999" stroke-width="0.8"/>
<line x1="202.30" y1="392.80" x2="202.30" y2="394.20" stroke="#777" stroke-width="0.9"/>
<line x1="202.30" y1="397.00" x2="202.30" y2="398.40" stroke="#777" stroke-width="0.9"/>
<circle cx="202.30" cy="477.20" r="4.5" fill="none" stroke="#484848" stroke-width="0.95"/>
<line x1="192.70" y1="477.20" x2="198.70" y2="477.20" stroke="#666" stroke-width="0.9"/>
<line x1="205.90" y1="477.20" x2="211.90" y2="477.20" stroke="#666" stroke-width="0.9"/>
<line x1="201.70" y1="477.20" x2="202.90" y2="477.20" stroke="#444" stroke-width="1"/>
<line x1="199.70" y1="477.20" x2="200.50" y2="477.20" stroke="#999" stroke-width="0.8"/>
<line x1="204.10" y1="477.20" x2="204.90" y2="477.20" stroke="#999" stroke-width="0.8"/>
<line x1="202.30" y1="474.40" x2="202.30" y2="475.80" stroke="#777" stroke-width="0.9"/>
<line x1="202.30" y1="478.60" x2="202.30" y2="480.00" stroke="#777" stroke-width="0.9"/>
<line x1="202.30" y1="383.40" x2="202.30" y2="391.20" stroke="#5a5a5a" stroke-width="0.95"/>
<line x1="202.30" y1="400.00" x2="202.30" y2="410.40" stroke="#5a5a5a" stroke-width="0.95"/>
<line x1="202.30" y1="412.30" x2="202.30" y2="413.70" stroke="#5a5a5a" stroke-width="0.95"/>
<line x1="202.30" y1="415.40" x2="202.30" y2="425.60" stroke="#5a5a5a" stroke-width="0.95"/>
<line x1="202.30" y1="427.50" x2="202.30" y2="428.90" stroke="#5a5a5a" stroke-width="0.95"/>
<line x1="202.30" y1="430.40" x2="202.30" y2="440.80" stroke="#5a5a5a" stroke-width="0.95"/>
<line x1="202.30" y1="442.70" x2="202.30" y2="444.10" stroke="#5a5a5a" stroke-width="0.95"/>
<line x1="202.30" y1="445.60" x2="202.30" y2="456.00" stroke="#5a5a5a" stroke-width="0.95"/>
<line x1="202.30" y1="457.90" x2="202.30" y2="459.30" stroke="#5a5a5a" stroke-width="0.95"/>
<line x1="202.30" y1="461.00" x2="202.30" y2="472.80" stroke="#5a5a5a" stroke-width="0.95"/>
<line x1="202.30" y1="481.60" x2="202.30" y2="489.30" stroke="#5a5a5a" stroke-width="0.95"/>
<circle cx="229.40" cy="395.60" r="4.5" fill="none" stroke="#484848" stroke-width="0.95"/>
<line x1="219.80" y1="395.60" x2="225.80" y2="395.60" stroke="#666" stroke-width="0.9"/>
<line x1="233.00" y1="395.60" x2="239.00" y2="395.60" stroke="#666" stroke-width="0.9"/>
<line x1="228.80" y1="395.60" x2="230.00" y2="395.60" stroke="#444" stroke-width="1"/>
<line x1="226.80" y1="395.60" x2="227.60" y2="395.60" stroke="#999" stroke-width="0.8"/>
<line x1="231.20" y1="395.60" x2="232.00" y2="395.60" stroke="#999" stroke-width="0.8"/>
<line x1="229.40" y1="392.80" x2="229.40" y2="394.20" stroke="#777" stroke-width="0.9"/>
<line x1="229.40" y1="397.00" x2="229.40" y2="398.40" stroke="#777" stroke-width="0.9"/>
<circle cx="229.40" cy="477.20" r="4.5" fill="none" stroke="#484848" stroke-width="0.95"/>
<line x1="219.80" y1="477.20" x2="225.80" y2="477.20" stroke="#666" stroke-width="0.9"/>
<line x1="233.00" y1="477.20" x2="239.00" y2="477.20" stroke="#666" stroke-width="0.9"/>
<line x1="228.80" y1="477.20" x2="230.00" y2="477.20" stroke="#444" stroke-width="1"/>
<line x1="226.80" y1="477.20" x2="227.60" y2="477.20" stroke="#999" stroke-width="0.8"/>
<line x1="231.20" y1="477.20" x2="232.00" y2="477.20" stroke="#999" stroke-width="0.8"/>
<line x1="229.40" y1="474.40" x2="229.40" y2="475.80" stroke="#777" stroke-width="0.9"/>
<line x1="229.40" y1="478.60" x2="229.40" y2="480.00" stroke="#777" stroke-width="0.9"/>
<line x1="229.40" y1="383.40" x2="229.40" y2="391.20" stroke="#5a5a5a" stroke-width="0.95"/>
<line x1="229.40" y1="400.00" x2="229.40" y2="410.40" stroke="#5a5a5a" stroke-width="0.95"/>
<line x1="229.40" y1="412.30" x2="229.40" y2="413.70" stroke="#5a5a5a" stroke-width="0.95"/>
<line x1="229.40" y1="415.40" x2="229.40" y2="425.60" stroke="#5a5a5a" stroke-width="0.95"/>
<line x1="229.40" y1="427.50" x2="229.40" y2="428.90" stroke="#5a5a5a" stroke-width="0.95"/>
<line x1="229.40" y1="430.40" x2="229.40" y2="440.80" stroke="#5a5a5a" stroke-width="0.95"/>
<line x1="229.40" y1="442.70" x2="229.40" y2="444.10" stroke="#5a5a5a" stroke-width="0.95"/>
<line x1="229.40" y1="445.60" x2="229.40" y2="456.00" stroke="#5a5a5a" stroke-width="0.95"/>
<line x1="229.40" y1="457.90" x2="229.40" y2="459.30" stroke="#5a5a5a" stroke-width="0.95"/>
<line x1="229.40" y1="461.00" x2="229.40" y2="472.80" stroke="#5a5a5a" stroke-width="0.95"/>
<line x1="229.40" y1="481.60" x2="229.40" y2="489.30" stroke="#5a5a5a" stroke-width="0.95"/>
<circle cx="256.50" cy="395.60" r="4.5" fill="none" stroke="#484848" stroke-width="0.95"/>
<line x1="246.90" y1="395.60" x2="252.90" y2="395.60" stroke="#666" stroke-width="0.9"/>
<line x1="260.10" y1="395.60" x2="266.10" y2="395.60" stroke="#666" stroke-width="0.9"/>
<line x1="255.90" y1="395.60" x2="257.10" y2="395.60" stroke="#444" stroke-width="1"/>
<line x1="253.90" y1="395.60" x2="254.70" y2="395.60" stroke="#999" stroke-width="0.8"/>
<line x1="258.30" y1="395.60" x2="259.10" y2="395.60" stroke="#999" stroke-width="0.8"/>
<line x1="256.50" y1="392.80" x2="256.50" y2="394.20" stroke="#777" stroke-width="0.9"/>
<line x1="256.50" y1="397.00" x2="256.50" y2="398.40" stroke="#777" stroke-width="0.9"/>
<circle cx="256.50" cy="477.20" r="4.5" fill="none" stroke="#484848" stroke-width="0.95"/>
<line x1="246.90" y1="477.20" x2="252.90" y2="477.20" stroke="#666" stroke-width="0.9"/>
<line x1="260.10" y1="477.20" x2="266.10" y2="477.20" stroke="#666" stroke-width="0.9"/>
<line x1="255.90" y1="477.20" x2="257.10" y2="477.20" stroke="#444" stroke-width="1"/>
<line x1="253.90" y1="477.20" x2="254.70" y2="477.20" stroke="#999" stroke-width="0.8"/>
<line x1="258.30" y1="477.20" x2="259.10" y2="477.20" stroke="#999" stroke-width="0.8"/>
<line x1="256.50" y1="474.40" x2="256.50" y2="475.80" stroke="#777" stroke-width="0.9"/>
<line x1="256.50" y1="478.60" x2="256.50" y2="480.00" stroke="#777" stroke-width="0.9"/>
<line x1="256.50" y1="383.40" x2="256.50" y2="391.20" stroke="#5a5a5a" stroke-width="0.95"/>
<line x1="256.50" y1="400.00" x2="256.50" y2="410.40" stroke="#5a5a5a" stroke-width="0.95"/>
<line x1="256.50" y1="412.30" x2="256.50" y2="413.70" stroke="#5a5a5a" stroke-width="0.95"/>
<line x1="256.50" y1="415.40" x2="256.50" y2="425.60" stroke="#5a5a5a" stroke-width="0.95"/>
<line x1="256.50" y1="427.50" x2="256.50" y2="428.90" stroke="#5a5a5a" stroke-width="0.95"/>
<line x1="256.50" y1="430.40" x2="256.50" y2="440.80" stroke="#5a5a5a" stroke-width="0.95"/>
<line x1="256.50" y1="442.70" x2="256.50" y2="444.10" stroke="#5a5a5a" stroke-width="0.95"/>
<line x1="256.50" y1="445.60" x2="256.50" y2="456.00" stroke="#5a5a5a" stroke-width="0.95"/>
<line x1="256.50" y1="457.90" x2="256.50" y2="459.30" stroke="#5a5a5a" stroke-width="0.95"/>
<line x1="256.50" y1="461.00" x2="256.50" y2="472.80" stroke="#5a5a5a" stroke-width="0.95"/>
<line x1="256.50" y1="481.60" x2="256.50" y2="489.30" stroke="#5a5a5a" stroke-width="0.95"/>
<circle cx="283.60" cy="395.60" r="4.5" fill="none" stroke="#484848" stroke-width="0.95"/>
<line x1="274.00" y1="395.60" x2="280.00" y2="395.60" stroke="#666" stroke-width="0.9"/>
<line x1="287.20" y1="395.60" x2="293.20" y2="395.60" stroke="#666" stroke-width="0.9"/>
<line x1="283.00" y1="395.60" x2="284.20" y2="395.60" stroke="#444" stroke-width="1"/>
<line x1="281.00" y1="395.60" x2="281.80" y2="395.60" stroke="#999" stroke-width="0.8"/>
<line x1="285.40" y1="395.60" x2="286.20" y2="395.60" stroke="#999" stroke-width="0.8"/>
<line x1="283.60" y1="392.80" x2="283.60" y2="394.20" stroke="#777" stroke-width="0.9"/>
<line x1="283.60" y1="397.00" x2="283.60" y2="398.40" stroke="#777" stroke-width="0.9"/>
<circle cx="283.60" cy="477.20" r="4.5" fill="none" stroke="#484848" stroke-width="0.95"/>
<line x1="274.00" y1="477.20" x2="280.00" y2="477.20" stroke="#666" stroke-width="0.9"/>
<line x1="287.20" y1="477.20" x2="293.20" y2="477.20" stroke="#666" stroke-width="0.9"/>
<line x1="283.00" y1="477.20" x2="284.20" y2="477.20" stroke="#444" stroke-width="1"/>
<line x1="281.00" y1="477.20" x2="281.80" y2="477.20" stroke="#999" stroke-width="0.8"/>
<line x1="285.40" y1="477.20" x2="286.20" y2="477.20" stroke="#999" stroke-width="0.8"/>
<line x1="283.60" y1="474.40" x2="283.60" y2="475.80" stroke="#777" stroke-width="0.9"/>
<line x1="283.60" y1="478.60" x2="283.60" y2="480.00" stroke="#777" stroke-width="0.9"/>
<line x1="283.60" y1="383.40" x2="283.60" y2="391.20" stroke="#5a5a5a" stroke-width="0.95"/>
<line x1="283.60" y1="400.00" x2="283.60" y2="410.40" stroke="#5a5a5a" stroke-width="0.95"/>
<line x1="283.60" y1="412.30" x2="283.60" y2="413.70" stroke="#5a5a5a" stroke-width="0.95"/>
<line x1="283.60" y1="415.40" x2="283.60" y2="425.60" stroke="#5a5a5a" stroke-width="0.95"/>
<line x1="283.60" y1="427.50" x2="283.60" y2="428.90" stroke="#5a5a5a" stroke-width="0.95"/>
<line x1="283.60" y1="430.40" x2="283.60" y2="440.80" stroke="#5a5a5a" stroke-width="0.95"/>
<line x1="283.60" y1="442.70" x2="283.60" y2="444.10" stroke="#5a5a5a" stroke-width="0.95"/>
<line x1="283.60" y1="445.60" x2="283.60" y2="456.00" stroke="#5a5a5a" stroke-width="0.95"/>
<line x1="283.60" y1="457.90" x2="283.60" y2="459.30" stroke="#5a5a5a" stroke-width="0.95"/>
<line x1="283.60" y1="461.00" x2="283.60" y2="472.80" stroke="#5a5a5a" stroke-width="0.95"/>
<line x1="283.60" y1="481.60" x2="283.60" y2="489.30" stroke="#5a5a5a" stroke-width="0.95"/>
<circle cx="310.70" cy="395.60" r="4.5" fill="none" stroke="#484848" stroke-width="0.95"/>
<line x1="301.10" y1="395.60" x2="307.10" y2="395.60" stroke="#666" stroke-width="0.9"/>
<line x1="314.30" y1="395.60" x2="320.30" y2="395.60" stroke="#666" stroke-width="0.9"/>
<line x1="310.10" y1="395.60" x2="311.30" y2="395.60" stroke="#444" stroke-width="1"/>
<line x1="308.10" y1="395.60" x2="308.90" y2="395.60" stroke="#999" stroke-width="0.8"/>
<line x1="312.50" y1="395.60" x2="313.30" y2="395.60" stroke="#999" stroke-width="0.8"/>
<line x1="310.70" y1="392.80" x2="310.70" y2="394.20" stroke="#777" stroke-width="0.9"/>
<line x1="310.70" y1="397.00" x2="310.70" y2="398.40" stroke="#777" stroke-width="0.9"/>
<circle cx="310.70" cy="477.20" r="4.5" fill="none" stroke="#484848" stroke-width="0.95"/>
<line x1="301.10" y1="477.20" x2="307.10" y2="477.20" stroke="#666" stroke-width="0.9"/>
<line x1="314.30" y1="477.20" x2="320.30" y2="477.20" stroke="#666" stroke-width="0.9"/>
<line x1="310.10" y1="477.20" x2="311.30" y2="477.20" stroke="#444" stroke-width="1"/>
<line x1="308.10" y1="477.20" x2="308.90" y2="477.20" stroke="#999" stroke-width="0.8"/>
<line x1="312.50" y1="477.20" x2="313.30" y2="477.20" stroke="#999" stroke-width="0.8"/>
<line x1="310.70" y1="474.40" x2="310.70" y2="475.80" stroke="#777" stroke-width="0.9"/>
<line x1="310.70" y1="478.60" x2="310.70" y2="480.00" stroke="#777" stroke-width="0.9"/>
<line x1="310.70" y1="383.40" x2="310.70" y2="391.20" stroke="#5a5a5a" stroke-width="0.95"/>
<line x1="310.70" y1="400.00" x2="310.70" y2="410.40" stroke="#5a5a5a" stroke-width="0.95"/>
<line x1="310.70" y1="412.30" x2="310.70" y2="413.70" stroke="#5a5a5a" stroke-width="0.95"/>
<line x1="310.70" y1="415.40" x2="310.70" y2="425.60" stroke="#5a5a5a" stroke-width="0.95"/>
<line x1="310.70" y1="427.50" x2="310.70" y2="428.90" stroke="#5a5a5a" stroke-width="0.95"/>
<line x1="310.70" y1="430.40" x2="310.70" y2="440.80" stroke="#5a5a5a" stroke-width="0.95"/>
<line x1="310.70" y1="442.70" x2="310.70" y2="444.10" stroke="#5a5a5a" stroke-width="0.95"/>
<line x1="310.70" y1="445.60" x2="310.70" y2="456.00" stroke="#5a5a5a" stroke-width="0.95"/>
<line x1="310.70" y1="457.90" x2="310.70" y2="459.30" stroke="#5a5a5a" stroke-width="0.95"/>
<line x1="310.70" y1="461.00" x2="310.70" y2="472.80" stroke="#5a5a5a" stroke-width="0.95"/>
<line x1="310.70" y1="481.60" x2="310.70" y2="489.30" stroke="#5a5a5a" stroke-width="0.95"/>
<circle cx="337.80" cy="395.60" r="4.5" fill="none" stroke="#484848" stroke-width="0.95"/>
<line x1="328.20" y1="395.60" x2="334.20" y2="395.60" stroke="#666" stroke-width="0.9"/>
<line x1="341.40" y1="395.60" x2="347.40" y2="395.60" stroke="#666" stroke-width="0.9"/>
<line x1="337.20" y1="395.60" x2="338.40" y2="395.60" stroke="#444" stroke-width="1"/>
<line x1="335.20" y1="395.60" x2="336.00" y2="395.60" stroke="#999" stroke-width="0.8"/>
<line x1="339.60" y1="395.60" x2="340.40" y2="395.60" stroke="#999" stroke-width="0.8"/>
<line x1="337.80" y1="392.80" x2="337.80" y2="394.20" stroke="#777" stroke-width="0.9"/>
<line x1="337.80" y1="397.00" x2="337.80" y2="398.40" stroke="#777" stroke-width="0.9"/>
<circle cx="337.80" cy="477.20" r="4.5" fill="none" stroke="#484848" stroke-width="0.95"/>
<line x1="328.20" y1="477.20" x2="334.20" y2="477.20" stroke="#666" stroke-width="0.9"/>
<line x1="341.40" y1="477.20" x2="347.40" y2="477.20" stroke="#666" stroke-width="0.9"/>
<line x1="337.20" y1="477.20" x2="338.40" y2="477.20" stroke="#444" stroke-width="1"/>
<line x1="335.20" y1="477.20" x2="336.00" y2="477.20" stroke="#999" stroke-width="0.8"/>
<line x1="339.60" y1="477.20" x2="340.40" y2="477.20" stroke="#999" stroke-width="0.8"/>
<line x1="337.80" y1="474.40" x2="337.80" y2="475.80" stroke="#777" stroke-width="0.9"/>
<line x1="337.80" y1="478.60" x2="337.80" y2="480.00" stroke="#777" stroke-width="0.9"/>
<line x1="337.80" y1="383.40" x2="337.80" y2="391.20" stroke="#5a5a5a" stroke-width="0.95"/>
<line x1="337.80" y1="400.00" x2="337.80" y2="410.40" stroke="#5a5a5a" stroke-width="0.95"/>
<line x1="337.80" y1="412.30" x2="337.80" y2="413.70" stroke="#5a5a5a" stroke-width="0.95"/>
<line x1="337.80" y1="415.40" x2="337.80" y2="425.60" stroke="#5a5a5a" stroke-width="0.95"/>
<line x1="337.80" y1="427.50" x2="337.80" y2="428.90" stroke="#5a5a5a" stroke-width="0.95"/>
<line x1="337.80" y1="430.40" x2="337.80" y2="440.80" stroke="#5a5a5a" stroke-width="0.95"/>
<line x1="337.80" y1="442.70" x2="337.80" y2="444.10" stroke="#5a5a5a" stroke-width="0.95"/>
<line x1="337.80" y1="445.60" x2="337.80" y2="456.00" stroke="#5a5a5a" stroke-width="0.95"/>
<line x1="337.80" y1="457.90" x2="337.80" y2="459.30" stroke="#5a5a5a" stroke-width="0.95"/>
<line x1="337.80" y1="461.00" x2="337.80" y2="472.80" stroke="#5a5a5a" stroke-width="0.95"/>
<line x1="337.80" y1="481.60" x2="337.80" y2="489.30" stroke="#5a5a5a" stroke-width="0.95"/>
<line x1="93.90" y1="351.40" x2="93.90" y2="391.20" stroke="#4a4a4a" stroke-width="1"/>
<line x1="337.80" y1="351.40" x2="337.80" y2="381.10" stroke="#4a4a4a" stroke-width="1"/>
<line x1="93.90" y1="353.00" x2="180.80" y2="353.00" stroke="#4a4a4a" stroke-width="1"/>
<line x1="251.50" y1="353.00" x2="337.80" y2="353.00" stroke="#4a4a4a" stroke-width="1"/>
<path d="M93.90 353.00 L100.90 351.55 L100.90 354.45 Z" fill="#111" stroke="none"/>
<path d="M337.80 353.00 L330.80 354.45 L330.80 351.55 Z" fill="#111" stroke="none"/>
<path d="M182.30 348.80 L182.30 356.90 M182.30 348.80 L185.32 348.80 L186.62 349.19 L187.48 349.96 L187.91 350.73 L188.35 351.89 L188.35 353.81 L187.91 354.97 L187.48 355.74 L186.62 356.51 L185.32 356.90 L182.30 356.90 M190.94 348.80 L191.37 349.19 L191.80 348.80 L191.37 348.41 L190.94 348.80 M191.37 351.50 L191.37 356.90 M194.82 351.50 L194.82 356.90 M194.82 353.04 L196.12 351.89 L196.98 351.50 L198.28 351.50 L199.14 351.89 L199.57 353.04 L199.57 356.90 M199.57 353.04 L200.87 351.89 L201.73 351.50 L203.03 351.50 L203.89 351.89 L204.32 353.04 L204.32 356.90 M214.69 348.80 L214.69 356.90 M214.69 348.80 L218.58 348.80 L219.87 349.19 L220.30 349.57 L220.73 350.34 L220.73 351.50 L220.30 352.27 L219.87 352.66 L218.58 353.04 L214.69 353.04 M227.21 349.57 L227.21 354.97 M223.76 352.27 L230.67 352.27 M223.76 356.51 L230.67 356.51 M236.28 348.80 L234.99 349.19 L234.12 350.34 L233.69 352.27 L233.69 353.43 L234.12 355.36 L234.99 356.51 L236.28 356.90 L237.14 356.90 L238.44 356.51 L239.30 355.36 L239.74 353.43 L239.74 352.27 L239.30 350.34 L238.44 349.19 L237.14 348.80 L236.28 348.80 M243.19 356.13 L242.76 356.51 L243.19 356.90 L243.62 356.51 L243.19 356.13 M247.94 350.34 L248.80 349.96 L250.10 348.80 L250.10 356.90" fill="none" stroke="#5a5a5a" stroke-width="0.9" stroke-linecap="round" stroke-linejoin="round"/>
<line x1="121.00" y1="372.20" x2="121.00" y2="391.20" stroke="#4a4a4a" stroke-width="1"/>
<line x1="93.90" y1="373.90" x2="127.30" y2="373.90" stroke="#4a4a4a" stroke-width="1"/>
<path d="M93.90 373.90 L100.40 372.45 L100.40 375.35 Z" fill="#111" stroke="none"/>
<path d="M121.00 373.90 L114.50 375.35 L114.50 372.45 Z" fill="#111" stroke="none"/>
<path d="M130.10 372.02 L130.10 371.62 L130.50 370.81 L130.90 370.40 L131.69 370.00 L133.29 370.00 L134.08 370.40 L134.48 370.81 L134.88 371.62 L134.88 372.43 L134.48 373.24 L133.68 374.45 L129.70 378.50 L135.28 378.50 M138.47 377.69 L138.07 378.10 L138.47 378.50 L138.86 378.10 L138.47 377.69 M146.44 370.00 L142.45 370.00 L142.05 373.64 L142.45 373.24 L143.65 372.83 L144.84 372.83 L146.04 373.24 L146.83 374.05 L147.23 375.26 L147.23 376.07 L146.83 377.29 L146.04 378.10 L144.84 378.50 L143.65 378.50 L142.45 378.10 L142.05 377.69 L141.65 376.88 M153.61 370.00 L149.62 375.67 L155.60 375.67 M153.61 370.00 L153.61 378.50" fill="none" stroke="#5a5a5a" stroke-width="0.9" stroke-linecap="round" stroke-linejoin="round"/>
<line x1="343.70" y1="395.60" x2="365.50" y2="395.60" stroke="#4a4a4a" stroke-width="1"/>
<line x1="343.70" y1="477.20" x2="365.50" y2="477.20" stroke="#4a4a4a" stroke-width="1"/>
<line x1="364.40" y1="395.60" x2="364.40" y2="407.60" stroke="#4a4a4a" stroke-width="1"/>
<line x1="364.40" y1="465.00" x2="364.40" y2="477.20" stroke="#4a4a4a" stroke-width="1"/>
<path d="M364.40 395.60 L365.85 402.10 L362.95 402.10 Z" fill="#111" stroke="none"/>
<path d="M364.40 477.20 L362.95 470.70 L365.85 470.70 Z" fill="#111" stroke="none"/>
<path d="M360.00 456.99 L368.80 461.07 M360.00 462.70 L360.00 456.99 M367.96 453.73 L368.38 454.14 L368.80 453.73 L368.38 453.33 L367.96 453.73 M361.26 445.17 L360.42 445.58 L360.00 446.80 L360.00 447.62 L360.42 448.84 L361.68 449.66 L363.77 450.07 L365.87 450.07 L367.54 449.66 L368.38 448.84 L368.80 447.62 L368.80 447.21 L368.38 445.99 L367.54 445.17 L366.29 444.77 L365.87 444.77 L364.61 445.17 L363.77 445.99 L363.35 447.21 L363.35 447.62 L363.77 448.84 L364.61 449.66 L365.87 450.07 M362.10 441.91 L361.68 441.91 L360.84 441.51 L360.42 441.10 L360.00 440.28 L360.00 438.65 L360.42 437.84 L360.84 437.43 L361.68 437.02 L362.51 437.02 L363.35 437.43 L364.61 438.25 L368.80 442.32 L368.80 436.62 M360.84 430.50 L366.70 430.50 M363.77 433.76 L363.77 427.24 M368.38 433.76 L368.38 427.24 M360.00 421.94 L360.42 423.17 L361.68 423.98 L363.77 424.39 L365.03 424.39 L367.12 423.98 L368.38 423.17 L368.80 421.94 L368.80 421.13 L368.38 419.90 L367.12 419.09 L365.03 418.68 L363.77 418.68 L361.68 419.09 L360.42 419.90 L360.00 421.13 L360.00 421.94 M367.96 415.42 L368.38 415.83 L368.80 415.42 L368.38 415.01 L367.96 415.42 M361.68 410.94 L361.26 410.12 L360.00 408.90 L368.80 408.90" fill="none" stroke="#5a5a5a" stroke-width="0.9" stroke-linecap="round" stroke-linejoin="round"/>
<path d="M3.13 -6.71 L1.87 -6.34 L0.82 -5.41 L0.40 -4.30 L0.82 -3.19 L1.87 -2.26 L3.13 -1.89 L4.39 -2.26 L5.45 -3.19 L5.87 -4.30 L5.45 -5.41 L4.39 -6.34 L3.13 -6.71 M1.03 -0.40 L5.24 -8.20 M9.86 -6.71 L10.70 -7.09 L11.96 -8.20 L11.96 -0.40 M17.85 -1.14 L17.43 -0.77 L17.85 -0.40 L18.27 -0.77 L17.85 -1.14 M23.74 -8.20 L22.47 -7.83 L21.63 -6.71 L21.21 -4.86 L21.21 -3.74 L21.63 -1.89 L22.47 -0.77 L23.74 -0.40 L24.58 -0.40 L25.84 -0.77 L26.68 -1.89 L27.10 -3.74 L27.10 -4.86 L26.68 -6.71 L25.84 -7.83 L24.58 -8.20 L23.74 -8.20" fill="none" stroke="#5a5a5a" stroke-width="0.9" stroke-linecap="round" stroke-linejoin="round" transform="translate(49.9 380.2) rotate(24)"/>
<line x1="77.50" y1="388.40" x2="86.00" y2="391.80" stroke="#4a4a4a" stroke-width="1"/>
<path d="M89.70 393.30 L83.13 392.22 L84.21 389.53 Z" fill="#111" stroke="none"/>
<text x="108.10" y="48.60" font-size="8.6" text-anchor="start" fill="#111" font-weight="normal" textLength="14.00" lengthAdjust="spacingAndGlyphs" stroke="#111" stroke-width="0.2">ON</text>
<text x="114.00" y="103.00" font-size="12.2" text-anchor="middle" fill="#111" font-weight="normal" stroke="#111" stroke-width="0.2">1</text>
<text x="142.20" y="103.00" font-size="12.2" text-anchor="middle" fill="#111" font-weight="normal" stroke="#111" stroke-width="0.2">2</text>
<text x="169.50" y="103.00" font-size="12.2" text-anchor="middle" fill="#111" font-weight="normal" stroke="#111" stroke-width="0.2">3</text>
<text x="196.60" y="103.00" font-size="12.2" text-anchor="middle" fill="#111" font-weight="normal" stroke="#111" stroke-width="0.2">4</text>
<text x="224.20" y="103.00" font-size="12.2" text-anchor="middle" fill="#111" font-weight="normal" stroke="#111" stroke-width="0.2">5</text>
<text x="251.50" y="103.00" font-size="12.2" text-anchor="middle" fill="#111" font-weight="normal" stroke="#111" stroke-width="0.2">6</text>
<text x="277.60" y="103.00" font-size="12.2" text-anchor="middle" fill="#111" font-weight="normal" stroke="#111" stroke-width="0.2">7</text>
<text x="305.80" y="103.00" font-size="12.2" text-anchor="middle" fill="#111" font-weight="normal" stroke="#111" stroke-width="0.2">8</text>
<text x="332.60" y="103.00" font-size="12.2" text-anchor="middle" fill="#111" font-weight="normal" stroke="#111" stroke-width="0.2">9</text>
<text x="350.80" y="103.00" font-size="12.2" text-anchor="start" fill="#111" font-weight="normal" textLength="12.80" lengthAdjust="spacingAndGlyphs" stroke="#111" stroke-width="0.2">10</text>
<text x="379.90" y="103.00" font-size="12.2" text-anchor="start" fill="#111" font-weight="normal" textLength="12.80" lengthAdjust="spacingAndGlyphs" stroke="#111" stroke-width="0.2">11</text>
<text x="407.70" y="103.00" font-size="12.2" text-anchor="start" fill="#111" font-weight="normal" textLength="12.80" lengthAdjust="spacingAndGlyphs" stroke="#111" stroke-width="0.2">12</text>
<text x="163.40" y="541.00" font-size="14.2" text-anchor="start" fill="#111" font-weight="normal" stroke="#111" stroke-width="0.35">P.</text>
<text x="181.00" y="541.00" font-size="14.2" text-anchor="start" fill="#111" font-weight="normal" stroke="#111" stroke-width="0.35">C.</text>
<text x="199.40" y="541.00" font-size="14.2" text-anchor="start" fill="#111" font-weight="normal" textLength="10.20" lengthAdjust="spacingAndGlyphs" stroke="#111" stroke-width="0.35">B.</text>
<text x="214.00" y="541.00" font-size="14.2" text-anchor="start" fill="#111" font-weight="normal" textLength="57.90" lengthAdjust="spacingAndGlyphs" stroke="#111" stroke-width="0.35">LAYOUT</text>
<line x1="160.20" y1="545.20" x2="271.60" y2="545.20" stroke="#888" stroke-width="1.2"/>
<rect x="479.6" y="40.8" width="238.7" height="113.6" fill="none" stroke="#666" stroke-width="1.2"/>
<text x="488.40" y="63.50" font-size="17.7" text-anchor="start" fill="#2e2e2e" font-weight="normal" textLength="116.30" lengthAdjust="spacingAndGlyphs">SCHEMATIC(TYP.)</text>
<circle cx="513.50" cy="87.8" r="3.75" fill="none" stroke="#555" stroke-width="1.15"/>
<circle cx="513.50" cy="111.4" r="3.75" fill="none" stroke="#555" stroke-width="1.15"/>
<line x1="515.50" y1="108.10" x2="523.40" y2="92.20" stroke="#555" stroke-width="1"/>
<circle cx="528.70" cy="87.8" r="3.75" fill="none" stroke="#555" stroke-width="1.15"/>
<circle cx="528.70" cy="111.4" r="3.75" fill="none" stroke="#555" stroke-width="1.15"/>
<line x1="530.70" y1="108.10" x2="538.60" y2="92.20" stroke="#555" stroke-width="1"/>
<circle cx="543.00" cy="87.8" r="3.75" fill="none" stroke="#555" stroke-width="1.15"/>
<circle cx="543.00" cy="111.4" r="3.75" fill="none" stroke="#555" stroke-width="1.15"/>
<line x1="545.00" y1="108.10" x2="552.90" y2="92.20" stroke="#555" stroke-width="1"/>
<circle cx="558.30" cy="87.8" r="3.75" fill="none" stroke="#555" stroke-width="1.15"/>
<circle cx="558.30" cy="111.4" r="3.75" fill="none" stroke="#555" stroke-width="1.15"/>
<line x1="560.30" y1="108.10" x2="568.20" y2="92.20" stroke="#555" stroke-width="1"/>
<circle cx="573.60" cy="87.8" r="3.75" fill="none" stroke="#555" stroke-width="1.15"/>
<circle cx="573.60" cy="111.4" r="3.75" fill="none" stroke="#555" stroke-width="1.15"/>
<line x1="575.60" y1="108.10" x2="583.50" y2="92.20" stroke="#555" stroke-width="1"/>
<circle cx="588.80" cy="87.8" r="3.75" fill="none" stroke="#555" stroke-width="1.15"/>
<circle cx="588.80" cy="111.4" r="3.75" fill="none" stroke="#555" stroke-width="1.15"/>
<line x1="590.80" y1="108.10" x2="598.70" y2="92.20" stroke="#555" stroke-width="1"/>
<circle cx="604.20" cy="87.8" r="3.75" fill="none" stroke="#555" stroke-width="1.15"/>
<circle cx="604.20" cy="111.4" r="3.75" fill="none" stroke="#555" stroke-width="1.15"/>
<line x1="606.20" y1="108.10" x2="614.10" y2="92.20" stroke="#555" stroke-width="1"/>
<circle cx="619.50" cy="87.8" r="3.75" fill="none" stroke="#555" stroke-width="1.15"/>
<circle cx="619.50" cy="111.4" r="3.75" fill="none" stroke="#555" stroke-width="1.15"/>
<line x1="621.50" y1="108.10" x2="629.40" y2="92.20" stroke="#555" stroke-width="1"/>
<circle cx="634.50" cy="87.8" r="3.75" fill="none" stroke="#555" stroke-width="1.15"/>
<circle cx="634.50" cy="111.4" r="3.75" fill="none" stroke="#555" stroke-width="1.15"/>
<line x1="636.50" y1="108.10" x2="644.40" y2="92.20" stroke="#555" stroke-width="1"/>
<circle cx="649.80" cy="87.8" r="3.75" fill="none" stroke="#555" stroke-width="1.15"/>
<circle cx="649.80" cy="111.4" r="3.75" fill="none" stroke="#555" stroke-width="1.15"/>
<line x1="651.80" y1="108.10" x2="659.70" y2="92.20" stroke="#555" stroke-width="1"/>
<circle cx="665.20" cy="87.8" r="3.75" fill="none" stroke="#555" stroke-width="1.15"/>
<circle cx="665.20" cy="111.4" r="3.75" fill="none" stroke="#555" stroke-width="1.15"/>
<line x1="667.20" y1="108.10" x2="675.10" y2="92.20" stroke="#555" stroke-width="1"/>
<circle cx="680.30" cy="87.8" r="3.75" fill="none" stroke="#555" stroke-width="1.15"/>
<circle cx="680.30" cy="111.4" r="3.75" fill="none" stroke="#555" stroke-width="1.15"/>
<line x1="682.30" y1="108.10" x2="690.20" y2="92.20" stroke="#555" stroke-width="1"/>
<text x="497.90" y="145.40" font-size="15.3" text-anchor="start" fill="#2e2e2e" font-weight="normal" textLength="203.00" lengthAdjust="spacingAndGlyphs">(1,2,3,4,5,6,7,8,9,10,11,12,POS AVAIL)</text>
<rect x="479.80" y="176.05" width="238.10" height="333.25" fill="none" stroke="#5a5a5a" stroke-width="1.3"/>
<line x1="479.80" y1="201.68" x2="717.90" y2="201.68" stroke="#383838" stroke-width="1.3"/>
<line x1="479.80" y1="227.32" x2="717.90" y2="227.32" stroke="#383838" stroke-width="1.3"/>
<line x1="479.80" y1="252.95" x2="717.90" y2="252.95" stroke="#383838" stroke-width="1.3"/>
<line x1="479.80" y1="278.59" x2="717.90" y2="278.59" stroke="#383838" stroke-width="1.3"/>
<line x1="479.80" y1="304.22" x2="717.90" y2="304.22" stroke="#383838" stroke-width="1.3"/>
<line x1="479.80" y1="329.86" x2="717.90" y2="329.86" stroke="#383838" stroke-width="1.3"/>
<line x1="479.80" y1="355.49" x2="717.90" y2="355.49" stroke="#383838" stroke-width="1.3"/>
<line x1="479.80" y1="381.13" x2="717.90" y2="381.13" stroke="#383838" stroke-width="1.3"/>
<line x1="479.80" y1="406.76" x2="717.90" y2="406.76" stroke="#383838" stroke-width="1.3"/>
<line x1="479.80" y1="432.40" x2="717.90" y2="432.40" stroke="#383838" stroke-width="1.3"/>
<line x1="479.80" y1="458.03" x2="717.90" y2="458.03" stroke="#383838" stroke-width="1.3"/>
<line x1="479.80" y1="483.67" x2="717.90" y2="483.67" stroke="#383838" stroke-width="1.3"/>
<line x1="544.40" y1="176.05" x2="544.40" y2="509.30" stroke="#383838" stroke-width="1.3"/>
<line x1="630.80" y1="176.05" x2="630.80" y2="509.30" stroke="#383838" stroke-width="1.3"/>
<text x="494.70" y="195.30" font-size="17.1" text-anchor="start" fill="#2e2e2e" font-weight="normal" textLength="34.80" lengthAdjust="spacingAndGlyphs">Poles</text>
<text x="552.31" y="195.30" font-size="17.1" text-anchor="start" fill="#2e2e2e" font-weight="normal" textLength="70.59" lengthAdjust="spacingAndGlyphs">Dim P(mm)</text>
<text x="639.88" y="195.30" font-size="17.1" text-anchor="start" fill="#2e2e2e" font-weight="normal" textLength="68.93" lengthAdjust="spacingAndGlyphs">Dim L(mm)</text>
<text x="503.80" y="220.80" font-size="17.1" text-anchor="start" fill="#2e2e2e" font-weight="normal" textLength="16.60" lengthAdjust="spacingAndGlyphs">1P</text>
<text x="582.60" y="220.80" font-size="17.1" text-anchor="start" fill="#2e2e2e" font-weight="normal" textLength="10.00" lengthAdjust="spacingAndGlyphs">--</text>
<text x="660.35" y="220.80" font-size="17.1" text-anchor="start" fill="#2e2e2e" font-weight="normal" textLength="28.00" lengthAdjust="spacingAndGlyphs">3.54</text>
<text x="503.80" y="246.64" font-size="17.1" text-anchor="start" fill="#2e2e2e" font-weight="normal" textLength="16.60" lengthAdjust="spacingAndGlyphs">2P</text>
<text x="573.60" y="246.64" font-size="17.1" text-anchor="start" fill="#2e2e2e" font-weight="normal" textLength="28.00" lengthAdjust="spacingAndGlyphs">2.54</text>
<text x="660.35" y="246.64" font-size="17.1" text-anchor="start" fill="#2e2e2e" font-weight="normal" textLength="28.00" lengthAdjust="spacingAndGlyphs">6.08</text>
<text x="503.80" y="272.48" font-size="17.1" text-anchor="start" fill="#2e2e2e" font-weight="normal" textLength="16.60" lengthAdjust="spacingAndGlyphs">3P</text>
<text x="573.60" y="272.48" font-size="17.1" text-anchor="start" fill="#2e2e2e" font-weight="normal" textLength="28.00" lengthAdjust="spacingAndGlyphs">5.08</text>
<text x="660.35" y="272.48" font-size="17.1" text-anchor="start" fill="#2e2e2e" font-weight="normal" textLength="28.00" lengthAdjust="spacingAndGlyphs">8.62</text>
<text x="503.80" y="298.32" font-size="17.1" text-anchor="start" fill="#2e2e2e" font-weight="normal" textLength="16.60" lengthAdjust="spacingAndGlyphs">4P</text>
<text x="573.60" y="298.32" font-size="17.1" text-anchor="start" fill="#2e2e2e" font-weight="normal" textLength="28.00" lengthAdjust="spacingAndGlyphs">7.62</text>
<text x="656.35" y="298.32" font-size="17.1" text-anchor="start" fill="#2e2e2e" font-weight="normal" textLength="36.00" lengthAdjust="spacingAndGlyphs">11.16</text>
<text x="503.80" y="324.16" font-size="17.1" text-anchor="start" fill="#2e2e2e" font-weight="normal" textLength="16.60" lengthAdjust="spacingAndGlyphs">5P</text>
<text x="569.60" y="324.16" font-size="17.1" text-anchor="start" fill="#2e2e2e" font-weight="normal" textLength="36.00" lengthAdjust="spacingAndGlyphs">10.16</text>
<text x="656.35" y="324.16" font-size="17.1" text-anchor="start" fill="#2e2e2e" font-weight="normal" textLength="36.00" lengthAdjust="spacingAndGlyphs">13.70</text>
<text x="503.80" y="350.00" font-size="17.1" text-anchor="start" fill="#2e2e2e" font-weight="normal" textLength="16.60" lengthAdjust="spacingAndGlyphs">6P</text>
<text x="569.60" y="350.00" font-size="17.1" text-anchor="start" fill="#2e2e2e" font-weight="normal" textLength="36.00" lengthAdjust="spacingAndGlyphs">12.70</text>
<text x="656.35" y="350.00" font-size="17.1" text-anchor="start" fill="#2e2e2e" font-weight="normal" textLength="36.00" lengthAdjust="spacingAndGlyphs">16.24</text>
<text x="503.80" y="375.84" font-size="17.1" text-anchor="start" fill="#2e2e2e" font-weight="normal" textLength="16.60" lengthAdjust="spacingAndGlyphs">7P</text>
<text x="569.60" y="375.84" font-size="17.1" text-anchor="start" fill="#2e2e2e" font-weight="normal" textLength="36.00" lengthAdjust="spacingAndGlyphs">15.24</text>
<text x="656.35" y="375.84" font-size="17.1" text-anchor="start" fill="#2e2e2e" font-weight="normal" textLength="36.00" lengthAdjust="spacingAndGlyphs">18.78</text>
<text x="503.80" y="401.68" font-size="17.1" text-anchor="start" fill="#2e2e2e" font-weight="normal" textLength="16.60" lengthAdjust="spacingAndGlyphs">8P</text>
<text x="569.60" y="401.68" font-size="17.1" text-anchor="start" fill="#2e2e2e" font-weight="normal" textLength="36.00" lengthAdjust="spacingAndGlyphs">17.78</text>
<text x="656.35" y="401.68" font-size="17.1" text-anchor="start" fill="#2e2e2e" font-weight="normal" textLength="36.00" lengthAdjust="spacingAndGlyphs">21.32</text>
<text x="503.80" y="427.52" font-size="17.1" text-anchor="start" fill="#2e2e2e" font-weight="normal" textLength="16.60" lengthAdjust="spacingAndGlyphs">9P</text>
<text x="569.60" y="427.52" font-size="17.1" text-anchor="start" fill="#2e2e2e" font-weight="normal" textLength="36.00" lengthAdjust="spacingAndGlyphs">20.32</text>
<text x="656.35" y="427.52" font-size="17.1" text-anchor="start" fill="#2e2e2e" font-weight="normal" textLength="36.00" lengthAdjust="spacingAndGlyphs">23.86</text>
<text x="499.80" y="453.36" font-size="17.1" text-anchor="start" fill="#2e2e2e" font-weight="normal" textLength="24.60" lengthAdjust="spacingAndGlyphs">10P</text>
<text x="569.60" y="453.36" font-size="17.1" text-anchor="start" fill="#2e2e2e" font-weight="normal" textLength="36.00" lengthAdjust="spacingAndGlyphs">22.86</text>
<text x="656.35" y="453.36" font-size="17.1" text-anchor="start" fill="#2e2e2e" font-weight="normal" textLength="36.00" lengthAdjust="spacingAndGlyphs">26.40</text>
<text x="499.80" y="479.20" font-size="17.1" text-anchor="start" fill="#2e2e2e" font-weight="normal" textLength="24.60" lengthAdjust="spacingAndGlyphs">11P</text>
<text x="569.60" y="479.20" font-size="17.1" text-anchor="start" fill="#2e2e2e" font-weight="normal" textLength="36.00" lengthAdjust="spacingAndGlyphs">25.40</text>
<text x="656.35" y="479.20" font-size="17.1" text-anchor="start" fill="#2e2e2e" font-weight="normal" textLength="36.00" lengthAdjust="spacingAndGlyphs">28.94</text>
<text x="499.80" y="505.04" font-size="17.1" text-anchor="start" fill="#2e2e2e" font-weight="normal" textLength="24.60" lengthAdjust="spacingAndGlyphs">12P</text>
<text x="569.60" y="505.04" font-size="17.1" text-anchor="start" fill="#2e2e2e" font-weight="normal" textLength="36.00" lengthAdjust="spacingAndGlyphs">27.94</text>
<text x="656.35" y="505.04" font-size="17.1" text-anchor="start" fill="#2e2e2e" font-weight="normal" textLength="36.00" lengthAdjust="spacingAndGlyphs">31.46</text>
</g>
</svg>
</body></html>
